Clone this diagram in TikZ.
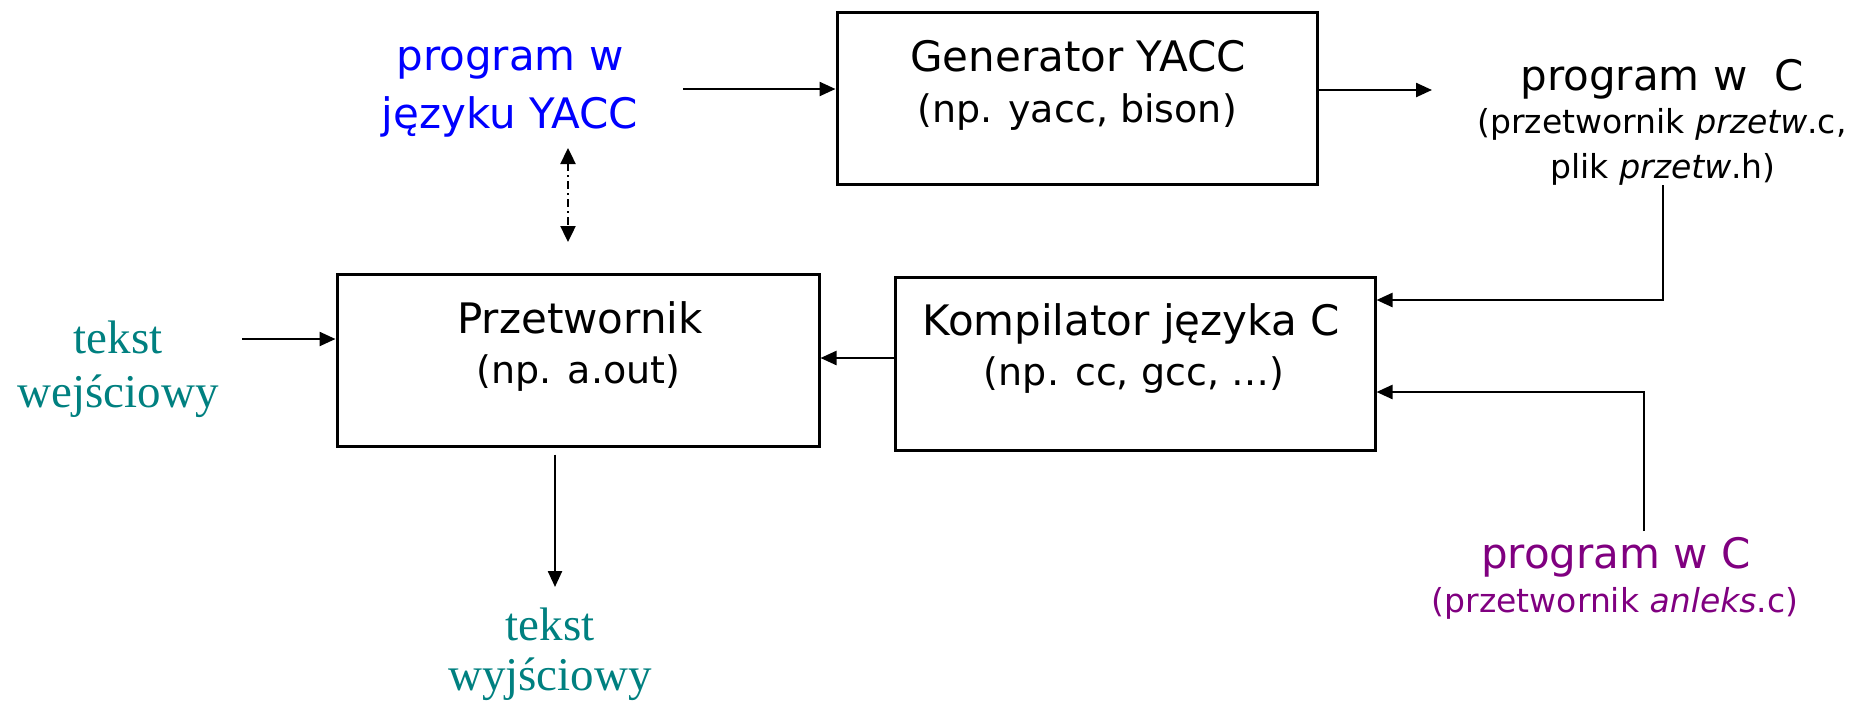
\documentclass[tikz,border=0pt]{standalone}
\usepackage{fontspec}
\setmainfont{DejaVu Sans}
\newfontfamily\tealserif{Liberation Serif}
\usetikzlibrary{arrows.meta}
\definecolor{srcblue}{RGB}{0,0,255}
\definecolor{iotext}{RGB}{0,128,128}
\definecolor{lexpurple}{RGB}{128,0,128}

\begin{document}
\begin{tikzpicture}[x=1pt,y=-1pt,
  box/.style={draw, line width=3pt, minimum width=480pt, minimum height=172pt, inner sep=0pt},
  txt/.style={anchor=base, inner sep=0pt},
  big/.style={font=\fontsize{42pt}{50pt}\selectfont},
  sub/.style={font=\fontsize{38pt}{46pt}\selectfont},
  small/.style={font=\fontsize{33pt}{40pt}\selectfont},
  serif/.style={font=\tealserif\fontsize{47pt}{54pt}\selectfont, text=iotext},
  flow/.style={line width=2.4pt, -{Triangle[length=16pt,width=14pt]}},
  link/.style={line width=2.4pt, dash pattern=on 8pt off 4pt on 2pt off 4pt,
    {Triangle[length=16pt,width=15pt]}-{Triangle[length=16pt,width=15pt]}}
]
\useasboundingbox (0,0) rectangle (1849,705);

% processing stages
\node[box] (gen) at (1077,98) {};
\node[box, minimum width=482pt] (prz) at (578,360) {};
\node[box, minimum height=173pt] (komp) at (1135,363.5) {};

\node[txt,big] (gen1) at (1078,71) {Generator YACC};
\node[txt,sub] (gen2) at (1077,122) {(np. yacc, bison)};
\node[txt,big] (prz1) at (580,333) {Przetwornik};
\node[txt,sub] (prz2) at (578.5,383) {(np. a.out)};
\node[txt,big] (komp1) at (1131,335) {Kompilator języka C};
\node[txt,sub] (komp2) at (1134,385) {(np. cc, gcc, …)};

% inputs and outputs
\node[txt,big,text=srcblue] (ysrc1) at (510,70) {program w};
\node[txt,big,text=srcblue] (ysrc2) at (510,128) {języku YACC};
\node[txt,big] (cgen1) at (1662,90) {program w\ \ C};
\node[txt,small] (cgen2) at (1662,133) {(przetwornik \textit{przetw}.c,};
\node[txt,small] (cgen3) at (1663,178) {plik \textit{przetw}.h)};
\node[txt,big,text=lexpurple] (clex1) at (1616,568) {program w C};
\node[txt,small,text=lexpurple] (clex2) at (1615,612) {(przetwornik \textit{anleks}.c)};
\node[txt,serif] (in1) at (118,353) {tekst};
\node[txt,serif] (in2) at (118,407) {wejściowy};
\node[txt,serif] (out1) at (550,640) {tekst};
\node[txt,serif] (out2) at (550,690) {wyjściowy};

% connectors
\coordinate (ysrcR) at (683,89);
\draw[flow] (ysrcR) -- (ysrcR -| gen.west);
\coordinate (cIn) at (1432,90);
\draw[flow] (gen.east |- cIn) -- (cIn);
\coordinate (hdrTop) at (1663,185);
\draw[flow] (hdrTop) |- (komp.east |- 0,300);
\coordinate (lexTop) at (1644,531);
\draw[flow] (lexTop) |- (komp.east |- 0,392);
\draw[flow] (komp.west |- 0,358) -- (prz.east |- 0,358);
\coordinate (inR) at (242,339);
\draw[flow] (inR) -- (inR -| prz.west);
\coordinate (outEnd) at (555,587);
\draw[flow] ([yshift=-7pt]prz.south -| outEnd) -- (outEnd);
\coordinate (lkTop) at (568,148);
\coordinate (lkBot) at (568,242);
\draw[link] (lkTop) -- (lkBot);
\end{tikzpicture}
\end{document}
